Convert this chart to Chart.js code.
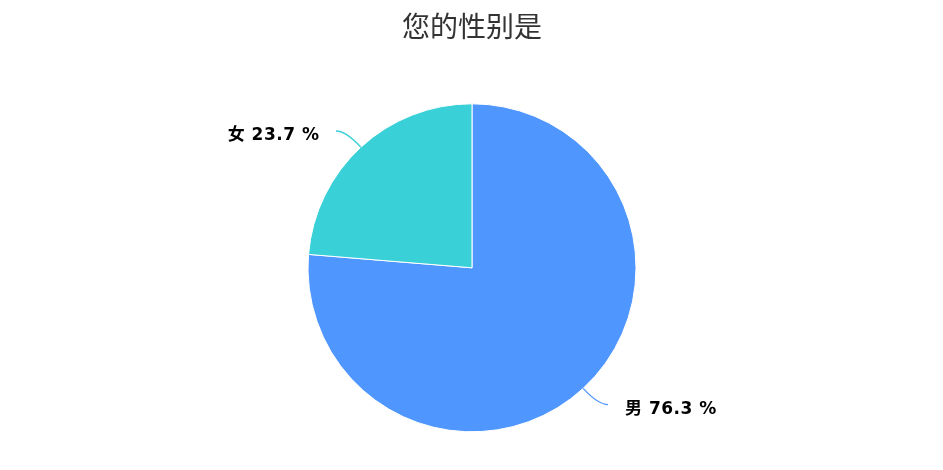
<!DOCTYPE html>
<html>
<head>
<meta charset="utf-8">
<script src="https://cdn.jsdelivr.net/npm/chart.js@4"></script>
<style>
html,body{margin:0;padding:0;background:#fff;}
#wrap{width:943px;height:470px;position:relative;}
</style>
</head>
<body>
<div id="wrap"><canvas id="c" width="943" height="470"></canvas></div>
<script>
const titleText = '您的性别是';
const categories = ['男', '女'];
const values = [76.3, 23.7];
const colors = ['#5096FF', '#3AD0D8'];

const labelPlugin = {
  id: 'outLabels',
  afterDatasetsDraw(chart) {
    const ctx = chart.ctx;
    const meta = chart.getDatasetMeta(0);
    meta.data.forEach((arc, i) => {
      const p = arc.getProps(['x', 'y', 'startAngle', 'endAngle', 'outerRadius'], true);
      const mid = (p.startAngle + p.endAngle) / 2;
      const cos = Math.cos(mid), sin = Math.sin(mid);
      const r = p.outerRadius;
      const x0 = p.x + cos * r, y0 = p.y + sin * r;
      const x1 = p.x + cos * (r + 22), y1 = p.y + sin * (r + 22);
      const dir = cos >= 0 ? 1 : -1;
      const x2 = x1 + dir * 10, y2 = y1;
      ctx.save();
      ctx.strokeStyle = colors[i];
      ctx.lineWidth = 1.3;
      ctx.beginPath();
      ctx.moveTo(x0, y0);
      ctx.quadraticCurveTo(x1, y1, x2, y2);
      ctx.stroke();
      ctx.fillStyle = '#000';
      ctx.font = 'bold 17px "DejaVu Sans", "Noto Sans CJK SC", sans-serif';
      const sp = 0.5;
      if ('letterSpacing' in ctx) ctx.letterSpacing = sp + 'px';
      ctx.textBaseline = 'middle';
      ctx.textAlign = 'left';
      const txt = categories[i] + ' ' + values[i].toFixed(1) + ' %';
      let w = ctx.measureText(txt).width;
      if ('letterSpacing' in ctx) w -= sp;
      const tx = dir > 0 ? x2 + 17 : x2 - 17 - w;
      ctx.fillText(txt, tx, y2 + 4.5);
      ctx.restore();
    });
  }
};

new Chart(document.getElementById('c'), {
  type: 'pie',
  data: {
    labels: categories,
    datasets: [{
      data: values,
      backgroundColor: colors,
      borderColor: '#ffffff',
      borderWidth: 1,
      radius: 164
    }]
  },
  options: {
    responsive: false,
    animation: false,
    layout: { padding: { left: 1 } },
    plugins: {
      legend: { display: false },
      tooltip: { enabled: false },
      title: {
        display: true,
        text: titleText,
        color: '#333333',
        font: { family: '"Noto Sans CJK SC", sans-serif', size: 28, weight: 'normal', lineHeight: 1.2 },
        padding: { top: 10, bottom: 22 }
      }
    }
  },
  plugins: [labelPlugin]
});
</script>
</body>
</html>
